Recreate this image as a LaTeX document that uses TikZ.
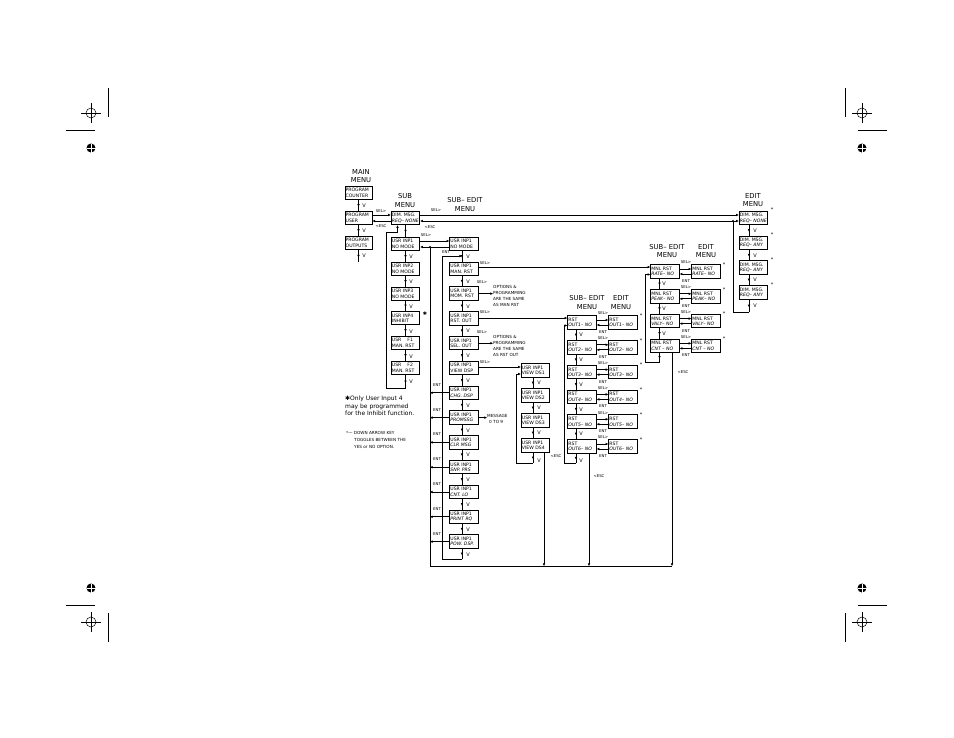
\documentclass[tikz,border=0pt]{standalone}
\usepackage{fontspec}
\newfontfamily\dvs{DejaVu Sans}
\usetikzlibrary{arrows.meta,decorations.markings,calc}
\begin{document}
\begin{tikzpicture}[x=1pt,y=-1pt,
  box/.style={draw, line width=0.95pt, minimum width=28.5pt, minimum height=13.5pt, text width=27.2pt, inner xsep=0.65pt, inner ysep=0.3pt, align=left, font=\dvs\fontsize{4.6}{5.4}\selectfont},
  mbox/.style={box, minimum width=27pt, text width=25.7pt},
  ttl/.style={font=\dvs\fontsize{6.8}{8.5}\selectfont, align=center, inner sep=0pt},
  lbl/.style={font=\dvs\fontsize{3.9}{4}\selectfont, inner sep=0pt},
  vl/.style={font=\dvs\fontsize{5}{5}\selectfont, inner sep=0pt},
  ast/.style={font=\dvs\fontsize{5}{5}\selectfont, inner sep=0pt},
  note/.style={font=\dvs\fontsize{4.2}{6}\selectfont, align=left, inner sep=0pt, anchor=west},
  ln/.style={line width=0.7pt},
  arr/.style={ln, -{Triangle[length=2.6pt,width=2.2pt]}},
  marr/.style={ln, decoration={markings, mark=at position 0.62 with {\arrow{Triangle[length=2.6pt,width=2.2pt]}}}, postaction={decorate}},
  dot/.style={circle, fill, inner sep=0pt, minimum size=2.2pt}
]
\fill[white] (0,0) rectangle (954,737);
\useasboundingbox (0,0) rectangle (954,737);

% ---------- crop / registration marks ----------
\foreach \cx/\cy in {91/113, 862/113, 91/622, 862/622} {
  \draw[line width=0.5pt] (\cx,\cy) circle[radius=5pt];
  \draw[line width=0.5pt] (\cx-10,\cy) -- (\cx+10,\cy) (\cx,\cy-10) -- (\cx,\cy+10);
}
\foreach \cx/\cy in {91/148, 862/148, 91/588, 862/588} {
  \fill (\cx,\cy) circle[radius=4.5pt];
  \draw[white, line width=0.6pt] (\cx-4.5,\cy) -- (\cx+4.5,\cy) (\cx,\cy-4.5) -- (\cx,\cy+4.5);
}
\draw[line width=0.7pt] (108,88) -- (108,117) (845,88) -- (845,117)
  (108,613) -- (108,642) (845,613) -- (845,642)
  (66,130) -- (95,130) (858,130) -- (887,130)
  (66,605) -- (95,605) (858,605) -- (887,605);

% ---------- titles ----------
\node[ttl] (t1) at (361,176) {MAIN\\MENU};
\node[ttl] (t2) at (405,200.5) {SUB\\MENU};
\node[ttl] (t3) at (465,204.5) {SUB– EDIT\\MENU};
\node[ttl] (t4) at (587,302.5) {SUB– EDIT\\MENU};
\node[ttl] (t5) at (621,302.5) {EDIT\\MENU};
\node[ttl] (t6) at (667,251) {SUB– EDIT\\MENU};
\node[ttl] (t7) at (706,251) {EDIT\\MENU};
\node[ttl] (t8) at (753,200) {EDIT\\MENU};

% ---------- main menu ----------
\node[mbox] (mc) at (358.5,193) {PROGRAM\\COUNTER};
\node[mbox] (mu) at (358.5,218) {PROGRAM\\USER};
\node[mbox] (mo) at (358.5,243) {PROGRAM\\OUTPUTS};
\coordinate (mend) at (358.5,262);
\draw[marr] (mc.south) -- (mu.north);
\draw[marr] (mu.south) -- (mo.north);
\draw[marr] (mo.south) -- (mend);
\node[vl] (mv1) at (364,206) {V};
\node[vl] (mv2) at (364,231) {V};
\node[vl] (mv3) at (364,256) {V};

% ---------- sub menu ----------
\node[box] (s0) at (405.5,218) {DIM. MSG.\\{\itshape REQ– NONE}};
\node[box] (s1) at (405.5,244) {USR INP1\\NO MODE};
\node[box] (s2) at (405.5,269) {USR INP2\\NO MODE};
\node[box] (s3) at (405.5,294) {USR INP3\\NO MODE};
\node[box] (s4) at (405.5,318) {USR INP4\\INHIBIT};
\node[box] (s5) at (405.5,343) {USR\hspace{6pt}F1\\MAN. RST};
\node[box] (s6) at (405.5,368) {USR\hspace{6pt}F2\\MAN. RST};
\node[ast] (sstar) at (425,314) {✱};

\draw[arr] (mu.east |- 0,215) -- (s0.west |- 0,215);
\draw[arr] (s0.west |- 0,221) -- (mu.east |- 0,221);
\node[lbl] (ls1) at (381,211) {SEL>};
\node[lbl] (ls2) at (381,226.5) {<ESC};

\draw[marr] (s0.south) -- (s1.north);
\foreach \i [count=\j from 2] in {1,...,5} {
  \draw[marr] (s\i.south) -- (s\j.north);
  \node[vl] (sv\i) at (411,{244+25*(\i-1)+12.5}) {V};
}
\draw[marr] (s6.south) -- (s6.south |- 0,388);
\node[vl] (sv6) at (411,382) {V};
\draw[arr] (s6.south |- 0,388) -| (386,232) -| ([xshift=-8pt]s0.south);

% ---------- edit menu (dim msg) ----------
\foreach \i/\t in {1/REQ– NONE, 2/REQ– ANY, 3/REQ– ANY, 4/REQ– ANY} {
  \node[box] (e\i) at (753.5,{218+24.8*(\i-1)}) {DIM. MSG.\\{\itshape \t}};
  \node[ast] (ea\i) at (772,{218+24.8*(\i-1)-8}) {*};
}
\foreach \i [count=\j from 2] in {1,...,3} {
  \draw[marr] ([xshift=-4.5pt]e\i.south) -- ([xshift=-4.5pt]e\j.north);
  \node[vl] (ev\i) at (755,{218+24.8*(\i-1)+12.4}) {V};
}
\coordinate (ej) at (733,221);
\draw[marr] ([xshift=-4.5pt]e4.south) -- ([xshift=-4.5pt]e4.south |- 0,312);
\node[vl] (ev4) at (755,306) {V};
\draw[ln] ([xshift=-4.5pt]e4.south |- 0,312) -| (ej);
\draw[arr] (ej) -- (e1.west |- ej);
\draw[arr] (ej) -- (s0.east |- ej);
\node[dot] (ejd) at (ej) {};
\draw[arr] (s0.east |- 0,215) -- (e1.west |- 0,215);
\node[lbl] (ls3) at (436,210.5) {SEL>};
\node[lbl] (ls4) at (430,227.5) {<ESC};

% ---------- user input sub-edit column ----------
\foreach \i/\t in {1/NO MODE, 2/MAN. RST, 3/MOM. RST, 4/RST. OUT, 5/SEL. OUT, 6/VIEW DSP, 7/{\itshape CHG. DSP}, 8/{\itshape PROMSSG}, 9/{\itshape CLR MSG}, 10/{\itshape SNP. PRS}, 11/{\itshape CNT. LO}, 12/{\itshape PRINT RQ}, 13/{\itshape POW. DSP.}} {
  \node[box] (c\i) at (464,{244+24.8*(\i-1)}) {USR INP1\\\t};
}
\foreach \i [count=\j from 2] in {1,...,12} {
  \draw[marr] ([xshift=-2pt]c\i.south) -- ([xshift=-2pt]c\j.north);
  \node[vl] (cv\i) at (468,{244+24.8*(\i-1)+12.6}) {V};
}
\draw[marr] ([xshift=-2pt]c13.south) -- ([xshift=-2pt]c13.south |- 0,559);
\node[vl] (cv13) at (468,555) {V};
\draw[arr] ([xshift=-2pt]c13.south |- 0,559) -| (442,256) -- ([xshift=-2pt]c1.south |- 0,256);

\draw[arr] (s1.east |- 0,241) -- (c1.west |- 0,241);
\node[lbl] (ls5) at (426,235.5) {SEL>};
\coordinate (oj) at (430,247);
\coordinate (ob) at (430,566);
\draw[arr] (c1.west |- oj) -- (s1.east |- oj);
\node[dot] (ojd) at (oj) {};
\node[lbl] (le1) at (446,252.5) {ENT};
\foreach \i in {7,...,13} {
  \draw[arr] (c\i.west) -- (c\i.west -| oj);
  \node[lbl] (le\i) at (437,{244+24.8*(\i-1)-8}) {ENT};
}

% notes beside the column
\node[note] (n1) at (493,296) {OPTIONS \&\\PROGRAMMING\\ARE THE SAME\\AS MAN RST};
\node[note] (n2) at (493,345.7) {OPTIONS \&\\PROGRAMMING\\ARE THE SAME\\AS RST OUT};
\node[note] (n3) at (487,419) {MESSAGE\\\hspace*{2pt}0 TO 9};
\draw[arr] (c3.east) -- (c3.east -| n1.west);
\draw[arr] (c5.east) -- (c5.east -| n2.west);
\draw[arr] (c8.east) -- (c8.east -| n3.west);
\node[lbl] (lc2) at (485,263) {SEL>};
\node[lbl] (lc3) at (482,282.5) {SEL>};
\node[lbl] (lc4) at (485,312.5) {SEL>};
\node[lbl] (lc5) at (482,332.5) {SEL>};
\node[lbl] (lc6) at (485,362) {SEL>};

% ---------- view display column ----------
\foreach \i in {1,...,4} {
  \node[box] (v\i) at (535.5,{370.5+25*(\i-1)}) {USR INP1\\VIEW DS\i};
}
\foreach \i [count=\j from 2] in {1,...,3} {
  \draw[marr] ([xshift=-2.5pt]v\i.south) -- ([xshift=-2.5pt]v\j.north);
  \node[vl] (vv\i) at (539,{370.5+25*(\i-1)+12.5}) {V};
}
\draw[arr] (c6.east |- 0,367) -- (v1.west |- 0,367);
\draw[marr] ([xshift=-2.5pt]v4.south) -- ([xshift=-2.5pt]v4.south |- 0,463);
\node[vl] (vv4) at (539,461) {V};
\draw[arr] ([xshift=-2.5pt]v4.south |- 0,463) -| (516,374) -- (v1.west |- 0,374);
\draw[arr] ([xshift=8.5pt]v4.south) -- ([xshift=8.5pt]v4.south |- ob);
\node[lbl] (lv) at (556,456) {<ESC};

% ---------- reset output columns ----------
\foreach \i in {1,...,6} {
  \node[box] (r\i) at (582,{322.5+24.8*(\i-1)}) {RST\\{\itshape OUT\i– NO}};
  \node[box] (re\i) at (623,{322.5+24.8*(\i-1)}) {RST\\{\itshape OUT\i– NO}};
  \draw[arr] ([yshift=2.5pt]r\i.east) -- ([yshift=2.5pt]re\i.west);
  \draw[arr] ([yshift=-2.5pt]re\i.west) -- ([yshift=-2.5pt]r\i.east);
  \node[lbl] (rs\i) at (603,{322.5+24.8*(\i-1)-9}) {SEL>};
  \node[lbl] (rn\i) at (603,{322.5+24.8*(\i-1)+9.5}) {ENT};
  \node[ast] (ra\i) at (641,{322.5+24.8*(\i-1)-7}) {*};
}
\foreach \i [count=\j from 2] in {1,...,5} {
  \draw[marr] ([xshift=-6pt]r\i.south) -- ([xshift=-6pt]r\j.north);
  \node[vl] (rv\i) at (581,{322.5+24.8*(\i-1)+12.4}) {V};
}
\draw[arr] (c4.east |- 0,318) -- (r1.west |- 0,318);
\draw[marr] ([xshift=-6pt]r6.south) -- ([xshift=-6pt]r6.south |- 0,463);
\node[vl] (rv6) at (581,461) {V};
\draw[arr] ([xshift=-6pt]r6.south |- 0,463) -| (564,325.5) -- (r1.west |- 0,325.5);
\draw[arr] ([xshift=7pt]r6.south) -- ([xshift=7pt]r6.south |- ob);
\node[lbl] (lr) at (599,476) {<ESC};

% ---------- manual reset columns ----------
\foreach \i/\t in {1/RATE– NO, 2/PEAK– NO, 3/VALY– NO, 4/CNT\ – NO} {
  \node[box] (m\i) at (665,{271.5+24.8*(\i-1)}) {MNL RST\\{\itshape \t}};
  \node[box] (me\i) at (706,{271.5+24.8*(\i-1)}) {MNL RST\\{\itshape \t}};
  \draw[arr] ([yshift=2.5pt]m\i.east) -- ([yshift=2.5pt]me\i.west);
  \draw[arr] ([yshift=-2.5pt]me\i.west) -- ([yshift=-2.5pt]m\i.east);
  \node[lbl] (ms\i) at (686,{271.5+24.8*(\i-1)-9}) {SEL>};
  \node[lbl] (mn\i) at (686,{271.5+24.8*(\i-1)+9.5}) {ENT};
  \node[ast] (ma\i) at (724,{271.5+24.8*(\i-1)-7}) {*};
}
\foreach \i [count=\j from 2] in {1,...,3} {
  \draw[marr] ([xshift=-5.5pt]m\i.south) -- ([xshift=-5.5pt]m\j.north);
  \node[vl] (mvv\i) at (664,{271.5+24.8*(\i-1)+12.4}) {V};
}
\draw[arr] (c2.east |- 0,267) -- (m1.west |- 0,267);
\draw[marr] ([xshift=-5.5pt]m4.south) -- ([xshift=-5.5pt]m4.south |- 0,362);
\draw[arr] ([xshift=-5.5pt]m4.south |- 0,362) -| (645,274.5) -- (m1.west |- 0,274.5);
\draw[arr] ([xshift=7pt]m4.south) -- ([xshift=7pt]m4.south |- ob);
\node[lbl] (lm) at (683,372) {<ESC};

% ---------- common escape return ----------
\draw[ln] (oj) -- (ob) -- ([xshift=7pt]m4.south |- ob);

% ---------- footnotes ----------
\node[note, font=\dvs\fontsize{6}{7.5}\selectfont] (n4) at (345,406) {✱Only User Input 4\\may be programmed\\for the Inhibit function.};
\node[note, font=\dvs\fontsize{4.2}{7}\selectfont] (n5) at (346,440) {*— DOWN ARROW KEY\\\hspace*{8pt}TOGGLES BETWEEN THE\\\hspace*{8pt}YES or NO OPTION.};
\end{tikzpicture}
\end{document}
